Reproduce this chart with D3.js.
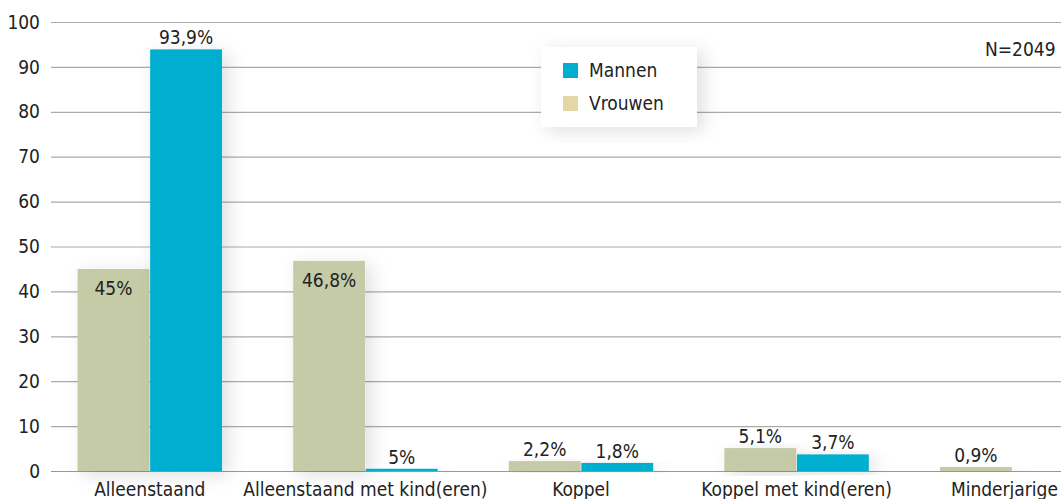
<!DOCTYPE html>
<html>
<head>
<meta charset="utf-8">
<script src="https://cdn.jsdelivr.net/npm/d3@7"></script>
<style>
  body { margin: 0; background: #fff; }
  svg { display: block; font-family: "Liberation Sans Narrow", "DejaVu Sans Condensed", "Open Sans", sans-serif; }
</style>
</head>
<body>
<div id="chart-area"></div>
<script>
// Gezinssituatie naar geslacht

var categories = ["Alleenstaand", "Alleenstaand met kind(eren)", "Koppel", "Koppel met kind(eren)", "Minderjarige"];
var vrouwen = [45, 46.8, 2.2, 5.1, 0.9];
var mannen = [93.9, 0.5, 1.8, 3.7, null];
var vrouwenLabels = ["45%", "46,8%", "2,2%", "5,1%", "0,9%"];
var mannenLabels = ["93,9%", "5%", "1,8%", "3,7%", ""];
var yTicks = [0, 10, 20, 30, 40, 50, 60, 70, 80, 90, 100];
var series = ["Vrouwen", "Mannen"];
var legendItems = ["Mannen", "Vrouwen"];
var nLabel = "N=2049";

var width = 1061, height = 499;
var fs = 19;

var colors = { Mannen: "#00aecf", Vrouwen: "#c4cba6" };
var legendColors = { Mannen: "#00aecf", Vrouwen: "#e3d6a7" };

var svg = d3.select("#chart-area")
    .append("svg")
    .attr("width", width)
    .attr("height", height);

var defs = svg.append("defs");
var shadow = defs.append("filter")
    .attr("id", "shadow")
    .attr("x", "-50%").attr("y", "-20%")
    .attr("width", "200%").attr("height", "140%");
shadow.append("feDropShadow")
    .attr("dx", 6).attr("dy", 4)
    .attr("stdDeviation", 9)
    .attr("flood-color", "#000")
    .attr("flood-opacity", 0.13);

var x = d3.scaleBand()
    .domain(categories)
    .range([42, 1120])
    .paddingInner(0.33)
    .paddingOuter(0.165);

var x1 = d3.scaleBand()
    .domain(series)
    .range([0, x.bandwidth()])
    .paddingInner(0.01);

var y = d3.scaleLinear()
    .domain([0, 100])
    .range([471, 22]);

// gridlines
svg.append("g")
    .selectAll("line")
    .data(yTicks)
    .enter().append("line")
    .attr("x1", 51).attr("x2", width)
    .attr("y1", function(d) { return y(d) + 0.5; })
    .attr("y2", function(d) { return y(d) + 0.5; })
    .attr("stroke", function(d) { return d === 0 ? "#999" : "#aaa"; })
    .attr("stroke-width", 1.2);

// y tick labels
svg.append("g")
    .selectAll("text")
    .data(yTicks)
    .enter().append("text")
    .attr("x", 40)
    .attr("y", function(d) { return y(d); })
    .attr("dy", "0.35em")
    .attr("text-anchor", "end")
    .attr("font-size", fs)
    .attr("fill", "#222")
    .text(function(d) { return d; });

var rows = categories.map(function(c, i) {
  return [
    { cat: c, key: "Vrouwen", value: vrouwen[i], label: vrouwenLabels[i] },
    { cat: c, key: "Mannen", value: mannen[i], label: mannenLabels[i] }
  ];
});

var groups = svg.append("g")
    .selectAll("g")
    .data(rows)
    .enter().append("g")
    .attr("transform", function(d, i) { return "translate(" + x(categories[i]) + ",0)"; });

groups.selectAll("rect")
    .data(function(d) { return d.filter(function(r) { return r.value != null; }); })
    .enter().append("rect")
    .attr("x", function(d) { return x1(d.key); })
    .attr("width", x1.bandwidth())
    .attr("y", function(d) { return y(d.value); })
    .attr("height", function(d) { return y(0) - y(d.value); })
    .attr("fill", function(d) { return colors[d.key]; })
    .attr("filter", "url(#shadow)");

groups.selectAll("text")
    .data(function(d) { return d.filter(function(r) { return r.value != null; }); })
    .enter().append("text")
    .attr("x", function(d) { return x1(d.key) + x1.bandwidth() / 2; })
    .attr("y", function(d) {
      var inside = d.key === "Vrouwen" && d.value > 40;
      return inside ? y(d.value) + 26 : y(d.value) - 5;
    })
    .attr("text-anchor", "middle")
    .attr("font-size", fs)
    .attr("fill", "#222")
    .text(function(d) { return d.label; });

// category labels, kept inside the right edge
svg.append("g")
    .selectAll("text")
    .data(categories)
    .enter().append("text")
    .attr("x", function(d) { return x(d) + x.bandwidth() / 2; })
    .attr("y", 496)
    .attr("text-anchor", "middle")
    .attr("font-size", fs)
    .attr("fill", "#222")
    .text(function(d) { return d; })
    .each(function() {
      var b = this.getBBox();
      var over = b.x + b.width - (width - 3);
      if (over > 0) d3.select(this).attr("x", +d3.select(this).attr("x") - over);
    });

// legend
var legend = svg.append("g").attr("transform", "translate(541,47)");
legend.append("rect")
    .attr("width", 156).attr("height", 80)
    .attr("fill", "#fff")
    .attr("filter", "url(#shadow)");

var li = legend.selectAll("g.item")
    .data(legendItems)
    .enter().append("g")
    .attr("class", "item")
    .attr("transform", function(d, i) { return "translate(22," + (16 + i * 33) + ")"; });
li.append("rect")
    .attr("width", 15).attr("height", 15)
    .attr("fill", function(d) { return legendColors[d]; });
li.append("text")
    .attr("x", 26).attr("y", 7.5)
    .attr("dy", "0.35em")
    .attr("font-size", fs)
    .attr("fill", "#222")
    .text(function(d) { return d; });

svg.append("text")
    .attr("x", 985).attr("y", 56)
    .attr("font-size", fs)
    .attr("fill", "#222")
    .text(nLabel);
</script>
</body>
</html>
